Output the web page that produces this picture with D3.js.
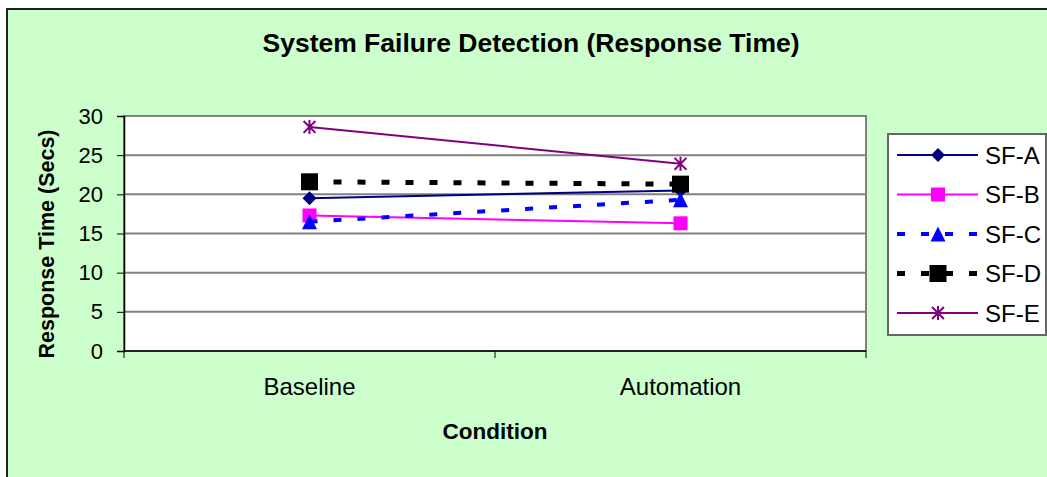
<!DOCTYPE html>
<html><head><meta charset="utf-8">
<script src="https://cdn.jsdelivr.net/npm/d3@7"></script>
<style>body{margin:0;background:#fff}svg{display:block}text{font-family:Arial,"Liberation Sans",sans-serif}</style>
</head><body>
<svg id="c" width="1047" height="477"></svg>
<script>
const categories = ["Baseline", "Automation"];
const seriesNames = ["SF-A", "SF-B", "SF-C", "SF-D", "SF-E"];
const sfA = [19.5, 20.5];
const sfB = [17.3, 16.3];
const sfC = [16.5, 19.3];
const sfD = [21.6, 21.3];
const sfE = [28.6, 23.9];
const yTicks = [0, 5, 10, 15, 20, 25, 30];
const title = "System Failure Detection (Response Time)";
const xTitle = "Condition";
const yTitle = "Response Time (Secs)";

const styles = {
  "SF-A": {color: "#000080", width: 2, dash: null, marker: "diamond", size: 14},
  "SF-B": {color: "#FF00FF", width: 2, dash: null, marker: "square", size: 14},
  "SF-C": {color: "#0000FF", width: 4, dash: "8,16", marker: "triangle", size: 15},
  "SF-D": {color: "#000000", width: 5, dash: "8,16", marker: "square", size: 17},
  "SF-E": {color: "#800080", width: 2, dash: null, marker: "star", size: 14}
};
const data = seriesNames.map((n, i) => ({name: n, values: [sfA, sfB, sfC, sfD, sfE][i]}));

const svg = d3.select("#c");
svg.append("rect").attr("x", 7).attr("y", 9).attr("width", 1060).attr("height", 490)
  .attr("fill", "#CCFFCC").attr("stroke", "#222").attr("stroke-width", 2);

const L = 124, R = 866, T = 116, B = 351;
const x = d3.scalePoint().domain(categories).range([L, R]).padding(0.5);
const xb = d3.scaleBand().domain(categories).range([L, R]);
const y = d3.scaleLinear().domain([0, 30]).range([B, T]);

svg.append("rect").attr("x", L).attr("y", T).attr("width", R - L).attr("height", B - T)
  .attr("fill", "#fff").attr("stroke", "#808080").attr("stroke-width", 2);

// gridlines
svg.append("g").selectAll("line").data(yTicks.filter(d => d > 0)).join("line")
  .attr("x1", L).attr("x2", R).attr("y1", d => y(d)).attr("y2", d => y(d))
  .attr("stroke", "#808080").attr("stroke-width", 2);

// y axis
const ya = svg.append("g").attr("transform", `translate(${L},0)`)
  .call(d3.axisLeft(y).tickValues(yTicks).tickSize(7).tickPadding(14));
ya.select(".domain").attr("stroke", "#000").attr("stroke-width", 1.5);
ya.selectAll(".tick line").attr("stroke", "#000");
ya.selectAll(".tick text").attr("font-size", 22).attr("fill", "#000").style("font-family", "Arial, 'Liberation Sans', sans-serif");

// x axis
const xa = svg.append("g").attr("transform", `translate(0,${B})`);
xa.append("line").attr("x1", L).attr("x2", R).attr("stroke", "#000").attr("stroke-width", 1.5);
const bounds = categories.map(c => xb(c)).concat([xb(categories[categories.length - 1]) + xb.bandwidth()]);
xa.selectAll("line.tk").data(bounds).join("line").attr("class", "tk")
  .attr("x1", d => d).attr("x2", d => d).attr("y1", 0).attr("y2", 7).attr("stroke", "#000");
xa.selectAll("text").data(categories).join("text")
  .attr("x", d => x(d)).attr("y", 44).attr("text-anchor", "middle")
  .attr("font-size", 24).text(d => d);

// titles
svg.append("text").attr("x", 531).attr("y", 52).attr("text-anchor", "middle")
  .attr("font-size", 26.5).attr("font-weight", "bold").text(title);
svg.append("text").attr("x", (L + R) / 2).attr("y", 439).attr("text-anchor", "middle")
  .attr("font-size", 22.5).attr("font-weight", "bold").text(xTitle);
svg.append("text").attr("transform", "translate(54,244) rotate(-90)").attr("text-anchor", "middle")
  .attr("font-size", 21.5).attr("font-weight", "bold").text(yTitle);

function drawMarker(g, type, cx, cy, s, color) {
  const h = s / 2;
  if (type === "diamond") {
    g.append("path").attr("d", `M${cx},${cy - h}L${cx + h},${cy}L${cx},${cy + h}L${cx - h},${cy}Z`).attr("fill", color);
  } else if (type === "square") {
    g.append("rect").attr("x", cx - h).attr("y", cy - h).attr("width", s).attr("height", s).attr("fill", color);
  } else if (type === "triangle") {
    g.append("path").attr("d", `M${cx},${cy - h}L${cx + h},${cy + h}L${cx - h},${cy + h}Z`).attr("fill", color);
  } else if (type === "star") {
    const d = h * 0.85;
    g.append("path").attr("d", `M${cx - d},${cy - d}L${cx + d},${cy + d}M${cx + d},${cy - d}L${cx - d},${cy + d}M${cx},${cy - h}L${cx},${cy + h}`)
      .attr("stroke", color).attr("stroke-width", 2).attr("fill", "none");
  }
}

const line = d3.line().x((d, i) => x(categories[i])).y(d => y(d));
data.forEach(s => {
  const st = styles[s.name];
  const g = svg.append("g");
  g.append("path").attr("d", line(s.values)).attr("fill", "none")
    .attr("stroke", st.color).attr("stroke-width", st.width)
    .attr("stroke-dasharray", st.dash);
  s.values.forEach((v, i) => drawMarker(g, st.marker, x(categories[i]), y(v), st.size, st.color));
});

// legend
const lg = svg.append("g");
lg.append("rect").attr("x", 888).attr("y", 134).attr("width", 158).attr("height", 201)
  .attr("fill", "#fff").attr("stroke", "#666").attr("stroke-width", 2);
const ly = d3.scalePoint().domain(seriesNames).range([155, 313]);
seriesNames.forEach(n => {
  const st = styles[n];
  const yy = ly(n);
  lg.append("line").attr("x1", 897).attr("x2", 978).attr("y1", yy).attr("y2", yy)
    .attr("stroke", st.color).attr("stroke-width", st.width).attr("stroke-dasharray", st.dash ? "8,16" : null);
  drawMarker(lg, st.marker, 938, yy, st.size, st.color);
  lg.append("text").attr("x", 985).attr("y", yy).attr("dy", "0.36em").attr("font-size", 24).text(n);
});
</script>
</body></html>
